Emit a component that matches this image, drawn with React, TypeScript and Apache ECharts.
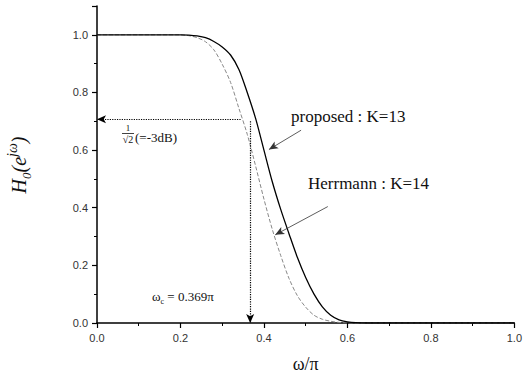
import React, { useEffect, useRef } from "react";
import * as echarts from "echarts";

const omegaProposed = [0, 0.1, 0.2, 0.22, 0.24, 0.26, 0.28, 0.3, 0.32, 0.34, 0.36, 0.38, 0.4, 0.42, 0.44, 0.46, 0.48, 0.5, 0.52, 0.54, 0.56, 0.58, 0.6, 0.62, 0.65, 0.8, 1.0];
const hProposed = [1, 1, 1, 0.999, 0.996, 0.99, 0.977, 0.958, 0.93, 0.88, 0.8, 0.71, 0.6, 0.49, 0.395, 0.31, 0.228, 0.158, 0.1, 0.056, 0.027, 0.011, 0.004, 0.001, 0, 0, 0];

const omegaHerrmann = [0, 0.1, 0.2, 0.22, 0.24, 0.26, 0.28, 0.3, 0.32, 0.34, 0.36, 0.38, 0.4, 0.42, 0.44, 0.46, 0.48, 0.5, 0.52, 0.54, 0.56, 0.58, 0.6, 0.8, 1.0];
const hHerrmann = [1, 1, 1, 0.997, 0.99, 0.976, 0.948, 0.898, 0.835, 0.745, 0.655, 0.545, 0.43, 0.325, 0.235, 0.155, 0.095, 0.055, 0.027, 0.013, 0.006, 0.002, 0, 0, 0];

const xTicks = { min: 0, max: 1, interval: 0.2 };
const yTicks = { min: 0, max: 1.1, interval: 0.2 };

const cutoffOmega = 0.367;
const halfPower = 0.707;
const halfPowerLineEnd = 0.344;

const proposedLabel = "proposed : K=13";
const herrmannLabel = "Herrmann : K=14";
const proposedArrow = [[0.489, 0.669], [0.412, 0.602]];
const herrmannArrow = [[0.553, 0.404], [0.427, 0.306]];

export default function App() {
  const ref = useRef<HTMLDivElement>(null);
  useEffect(() => {
    if (!ref.current) return;
    const chart = echarts.init(ref.current, null, { renderer: "svg" });
    const serif = "'Liberation Serif', 'Times New Roman', serif";
    const sans = "'Liberation Sans', Arial, sans-serif";
    const arrowLine = (a: number[][], dotted: boolean, w: number, color: string) => [
      { coord: a[0], lineStyle: { color, width: w, type: dotted ? "dotted" : "solid" } },
      { coord: a[1] },
    ];
    chart.setOption({
      animation: false,
      backgroundColor: "#fff",
      grid: { left: 97, right: 7, top: 6, bottom: 59 },
      xAxis: {
        type: "value",
        min: xTicks.min,
        max: xTicks.max,
        interval: xTicks.interval,
        name: "ω/π",
        nameLocation: "middle",
        nameGap: 32,
        nameTextStyle: { fontFamily: serif, fontSize: 18, color: "#111" },
        axisLine: { show: true, onZero: false, lineStyle: { color: "#000", width: 1.5 } },
        axisTick: { show: true, inside: false, length: 5, lineStyle: { color: "#000", width: 1.2 } },
        minorTick: { show: true, splitNumber: 2, length: 3, lineStyle: { color: "#000", width: 1 } },
        splitLine: { show: false },
        axisLabel: { fontFamily: sans, fontSize: 11, color: "#333", margin: 9, formatter: (v: number) => v.toFixed(1) },
      },
      yAxis: {
        type: "value",
        min: yTicks.min,
        max: yTicks.max,
        interval: yTicks.interval,
        axisLine: { show: true, onZero: false, lineStyle: { color: "#000", width: 1.5 } },
        axisTick: { show: true, inside: false, length: 5, lineStyle: { color: "#000", width: 1.2 } },
        minorTick: { show: true, splitNumber: 2, length: 3, lineStyle: { color: "#000", width: 1 } },
        splitLine: { show: false },
        axisLabel: { fontFamily: sans, fontSize: 11, color: "#333", margin: 9, showMaxLabel: false, formatter: (v: number) => v.toFixed(1) },
      },
      series: [
        {
          name: "Herrmann",
          type: "line",
          data: omegaHerrmann.map((x, i) => [x, hHerrmann[i]]),
          smooth: 0.3,
          showSymbol: false,
          lineStyle: { color: "#888", width: 1, type: [4, 2] },
          z: 2,
        },
        {
          name: "proposed",
          type: "line",
          data: omegaProposed.map((x, i) => [x, hProposed[i]]),
          smooth: 0.3,
          showSymbol: false,
          lineStyle: { color: "#000", width: 1.3 },
          z: 3,
          markLine: {
            silent: true,
            symbol: ["none", "arrow"],
            symbolSize: [6, 9],
            label: { show: false },
            data: [
              arrowLine([[halfPowerLineEnd, halfPower], [0, halfPower]], true, 1.2, "#000"),
              arrowLine([[cutoffOmega, 0.7], [cutoffOmega, 0]], true, 1.2, "#000"),
              arrowLine(proposedArrow, false, 0.8, "#333"),
              arrowLine(herrmannArrow, false, 0.8, "#333"),
            ],
          },
        },
      ],
      graphic: [
        {
          type: "text",
          left: 291,
          top: 108,
          style: { text: proposedLabel, font: `17px ${serif}`, fill: "#111" },
        },
        {
          type: "text",
          left: 308,
          top: 175,
          style: { text: herrmannLabel, font: `17px ${serif}`, fill: "#111" },
        },
        {
          type: "text",
          x: 128,
          y: 132,
          style: { text: "1", font: `9px ${serif}`, fill: "#111", align: "center", verticalAlign: "bottom" },
        },
        {
          type: "line",
          shape: { x1: 122, y1: 133.5, x2: 134, y2: 133.5 },
          style: { stroke: "#111", lineWidth: 0.8 },
        },
        {
          type: "text",
          x: 128,
          y: 134.5,
          style: { text: "√2", font: `10px ${serif}`, fill: "#111", align: "center", verticalAlign: "top" },
        },
        {
          type: "text",
          x: 135,
          y: 137,
          style: { text: "(=-3dB)", font: `13px ${serif}`, fill: "#111", align: "left", verticalAlign: "middle" },
        },
        {
          type: "text",
          x: 152,
          y: 296,
          style: {
            text: "{a|ω}{s|c}{a| = 0.369π}",
            align: "left",
            verticalAlign: "middle",
            fill: "#111",
            rich: {
              a: { font: `13px ${serif}`, fill: "#111", lineHeight: 19 },
              s: { font: `8px ${serif}`, fill: "#111", lineHeight: 9, verticalAlign: "bottom" },
            },
          },
        },
        {
          type: "text",
          x: 19,
          y: 165,
          rotation: Math.PI / 2,
          style: {
            text: "{h|H}{s|0}{h|(e}{p|jω}{h|)}",
            align: "center",
            verticalAlign: "middle",
            fill: "#111",
            rich: {
              h: { font: `italic 20px ${serif}`, fill: "#111", lineHeight: 28 },
              s: { font: `italic 13px ${serif}`, fill: "#111", lineHeight: 13, verticalAlign: "bottom" },
              p: { font: `italic 14px ${serif}`, fill: "#111", lineHeight: 14, verticalAlign: "top" },
            },
          },
        },
      ],
    });
    return () => chart.dispose();
  }, []);
  return <div ref={ref} style={{ position: "fixed", left: 0, top: 0, width: 525, height: 382 }} />;
}
